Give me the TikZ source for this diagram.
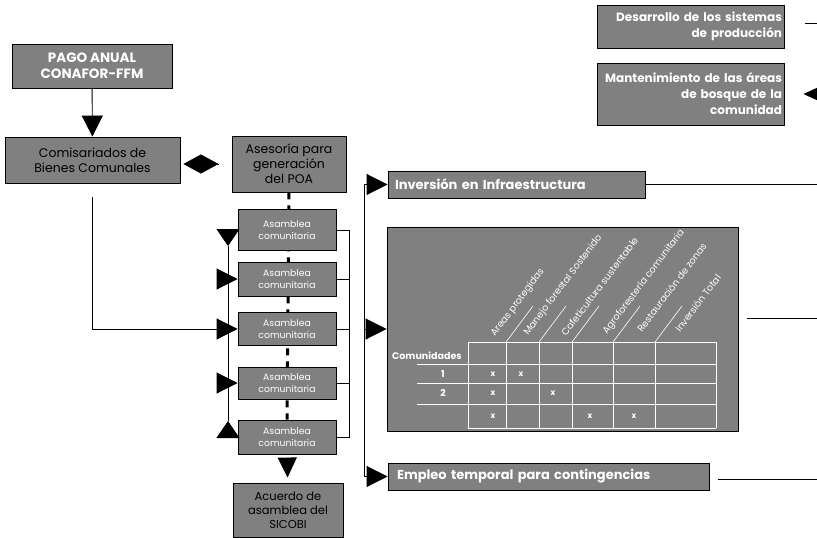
\documentclass[tikz,border=0pt]{standalone}
\usepackage{fontspec}
\setmainfont{Poppins}
\usetikzlibrary{arrows.meta,backgrounds}
\definecolor{cajagris}{RGB}{128,128,128}
\tikzset{
  caja/.style={draw=black, line width=0.9pt, fill=cajagris, inner sep=0pt, align=center},
  blanco/.style={text=white, font=\bfseries\fontsize{13}{16}\selectfont},
  negro/.style={text=black, font=\fontsize{12.5}{15}\selectfont},
  asam/.style={caja, text=white, font=\fontsize{9.3}{12}\selectfont, minimum width=98pt},
  flecha/.style={line width=0.9pt, -{Triangle[length=21pt,width=21pt]}},
  flechav/.style={line width=0.9pt, -{Triangle[length=17pt,width=23pt]}},
  celda/.style={text=white, font=\bfseries\fontsize{9.5}{10}\selectfont, inner sep=0pt},
  cabeza/.style={text=white, font=\fontsize{9.5}{10}\selectfont, rotate=53, anchor=base west, inner sep=0pt},
}

\begin{document}
\begin{tikzpicture}[x=1pt,y=-1pt]
		\useasboundingbox (0,0) rectangle (817,538);
		\clip (0,0) rectangle (817,538);
		\coordinate (fin) at (830,0);
		\coordinate (izq) at (228,0);
		\coordinate (der) at (349,0);
		\coordinate (bus) at (364,0);
		% cajas de la izquierda
		\node[caja, blanco, font=\bfseries\fontsize{13.5}{16}\selectfont, minimum width=160pt, minimum height=44pt] (pago) at (92,66) {PAGO ANUAL\\CONAFOR-FFM};
		\node[caja, negro, minimum width=175pt, minimum height=46pt] (comis) at (92.5,160) {Comisariados de\\Bienes Comunales};
		\node[caja, negro, minimum width=114pt, minimum height=56pt] (ases) at (289,164) {Asesoría para\\generación\\del POA};
		\node[asam, minimum height=41pt] (a1) at (287,230) {Asamblea\\comunitaria};
		\node[asam, minimum height=34pt] (a2) at (287,279) {Asamblea\\comunitaria};
		\node[asam, minimum height=33pt] (a3) at (287,329) {Asamblea\\comunitaria};
		\node[asam, minimum height=32pt] (a4) at (287,383) {Asamblea\\comunitaria};
		\node[asam, minimum height=34pt] (a5) at (287,437) {Asamblea\\comunitaria};
		\node[caja, negro, font=\fontsize{11.5}{14}\selectfont, minimum width=110pt, minimum height=54pt] (acuerdo) at (288,510) {Acuerdo de\\asamblea del\\SICOBI};
		% cajas de la derecha
		\node[caja, blanco, font=\bfseries\fontsize{12}{16}\selectfont, minimum height=43pt, inner xsep=2pt, text width=183pt, align=right] (des) at (690.5,26.5) {Desarrollo de los sistemas\\de producción};
		\node[caja, blanco, font=\bfseries\fontsize{12}{16}\selectfont, minimum height=62pt, inner xsep=2pt, text width=183pt, align=right] (mant) at (690.5,94) {Mantenimiento de las áreas\\de bosque de la\\comunidad};
		\node[caja, blanco, minimum height=27pt, inner xsep=7pt, text width=243pt, align=left] (inv) at (516.5,184.5) {Inversión en Infraestructura};
		\node[caja, minimum width=351pt, minimum height=204pt] (tabla) at (562.5,329) {};
		\node[caja, blanco, minimum height=27pt, inner xsep=9pt, text width=303pt, align=left] (emp) at (548.5,476.5) {Empleo temporal para contingencias};
		\begin{scope}[on background layer]
		\draw[line width=3pt, dash pattern=on 7pt off 6pt] (ases.south) -- (a5.north);
		\end{scope}
		% flechas
		\draw[flecha] (pago) -- (comis);
		\draw[-{Diamond[length=35pt,width=19pt]}, shorten <=14pt, shorten >=3pt] (ases.west) -- (ases.west -| comis.east);
		\draw[flecha, shorten <=14pt] (comis.south) |- (a3.west);
		\coordinate (p1) at (228,246);
		\coordinate (p5) at (228,421);
		\draw (p1) -- (p5);
		\draw[flechav] (a1.west) -| (p1);
		\draw[flechav] (a5.west) -| (p5);
		\foreach \n in {a2,a4} \draw[flecha] (\n.west -| izq) -- (\n.west);
		\draw (a1.east) -| (der |- a5.east) -- (a5.east);
		\foreach \n in {a2,a3,a4} \draw (\n.east) -- (\n.east -| der);
		\draw[line width=0.9pt, -{Triangle[length=20pt,width=19pt]}, shorten <=5pt, shorten >=5pt] (a5) -- (acuerdo);
		\draw (inv.west -| bus) -- (emp.west -| bus);
		\foreach \n in {inv,tabla,emp} \draw[flecha] (\n.west -| bus) -- (\n.west);
		% lineas hacia la derecha
		\coordinate (desR) at (805,23);
		\coordinate (tablaR) at (747,318);
		\coordinate (empR) at (718,479);
		\draw (desR) -- (desR -| fin);
		\draw (inv.east) -- (inv.east -| fin);
		\draw (tablaR) -- (tablaR -| fin);
		\draw (empR) -- (empR -| fin);
		\draw[line width=0.9pt, -{Triangle[length=20pt,width=18pt]}, shorten >=19pt] (mant.east -| fin) -- (mant.east);
		% tabla
		\begin{scope}[white, line width=0.6pt]
		\foreach \x in {468,506,539,572,613,655,716} \draw (\x,342) -- (\x,428);
		\draw (468,342) -- (716,342);
		\draw (468,428) -- (716,428);
		\foreach \y in {364,383,404} \draw (417,\y) -- (716,\y);
		\foreach \x in {506,539,572,613,655} \draw (\x,342) -- ++(27,-36);
		\end{scope}
		\node[celda, anchor=west] (comu) at (392,356) {Comunidades};
		\node[celda] (f1) at (443,374) {1};
		\node[celda] (f2) at (443,393) {2};
		\foreach \x/\y [count=\i] in {493/374, 521/374, 493/393, 553/393, 493/416, 590/416, 634/416}
			\node[celda, font=\bfseries\fontsize{8}{9}\selectfont] (x\i) at (\x,\y) {x};
		\foreach \x/\y/\t [count=\i] in {495/337/Areas protegidas, 528/336/Manejo forestal Sostenido, 566/337/Cafeticultura sustentable, 607/335/Agroforestería comunitaria, 642/333/Restauración de zonas, 680/333/Inversión Total}
			\node[cabeza] (h\i) at (\x,\y) {\t};
\end{tikzpicture}
\end{document}
